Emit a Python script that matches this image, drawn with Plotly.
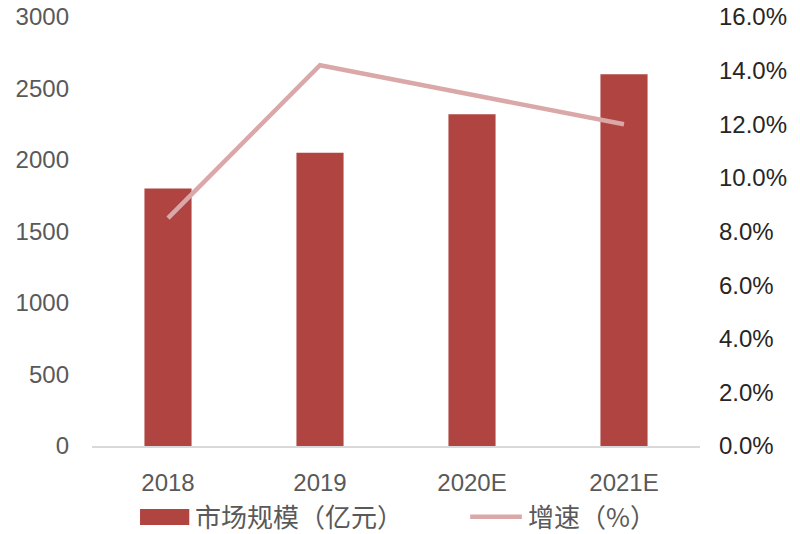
import plotly.graph_objects as go

# data
years = ["2018", "2019", "2020E", "2021E"]
market_size = [1800, 2050, 2320, 2600]        # 市场规模（亿元）
growth = [8.5, 14.2, 13.1, 12.0]              # 增速（%）

left_ticks = [0, 500, 1000, 1500, 2000, 2500, 3000]
right_ticks = [0, 2, 4, 6, 8, 10, 12, 14, 16]

bar_name = "市场规模（亿元）"
line_name = "增速（%）"

bar_color = "#AF4441"
line_color = "#DBA8AA"
font_num = "Liberation Sans, Arial, sans-serif"
font_cjk = "Noto Sans CJK SC, sans-serif"

fig = go.Figure()

fig.add_trace(go.Bar(
    x=years,
    y=market_size,
    name=bar_name,
    marker=dict(color=bar_color, line=dict(width=0)),
    width=0.31,
    yaxis="y",
))

fig.add_trace(go.Scatter(
    x=years,
    y=[g / 100 for g in growth],
    name=line_name,
    mode="lines",
    line=dict(color=line_color, width=4.5),
    yaxis="y2",
))

# legend drawn by hand so the symbols match the original (wide swatches)
fig.add_shape(type="rect", xref="paper", yref="paper",
              x0=0.079, x1=0.160, y0=-0.184, y1=-0.147,
              fillcolor=bar_color, line=dict(width=0))
fig.add_annotation(xref="paper", yref="paper", x=0.166, y=-0.163,
                   text=bar_name, showarrow=False,
                   xanchor="left", yanchor="middle",
                   font=dict(family=font_cjk, size=26, color="#595959"))
fig.add_shape(type="line", xref="paper", yref="paper",
              x0=0.622, x1=0.707, y0=-0.165, y1=-0.165,
              line=dict(color=line_color, width=4.5))
fig.add_annotation(xref="paper", yref="paper", x=0.713, y=-0.163,
                   text=line_name, showarrow=False,
                   xanchor="left", yanchor="middle",
                   font=dict(family=font_cjk, size=26, color="#595959"))

fig.update_layout(
    width=792,
    height=526,
    margin=dict(l=84, r=100, t=9, b=88),
    plot_bgcolor="white",
    paper_bgcolor="white",
    showlegend=False,
    xaxis=dict(
        showgrid=False,
        showline=True,
        linecolor="#D9D9D9",
        linewidth=1.5,
        ticks="",
        automargin=False,
        ticklabelstandoff=14,
        tickfont=dict(family=font_num, size=24, color="#595959"),
    ),
    yaxis=dict(
        range=[0, 3000],
        tickvals=left_ticks,
        showgrid=False,
        zeroline=False,
        showline=False,
        ticks="",
        automargin=False,
        ticklabeloverflow="allow",
        ticklabelstandoff=22,
        tickfont=dict(family=font_num, size=24, color="#595959"),
    ),
    yaxis2=dict(
        range=[0, 0.16],
        tickvals=[t / 100 for t in right_ticks],
        tickformat=".1%",
        overlaying="y",
        side="right",
        showgrid=False,
        zeroline=False,
        showline=False,
        ticks="",
        automargin=False,
        ticklabeloverflow="allow",
        ticklabelstandoff=18,
        tickfont=dict(family=font_num, size=24, color="#262626"),
    ),
)

fig.write_html("out.html")
